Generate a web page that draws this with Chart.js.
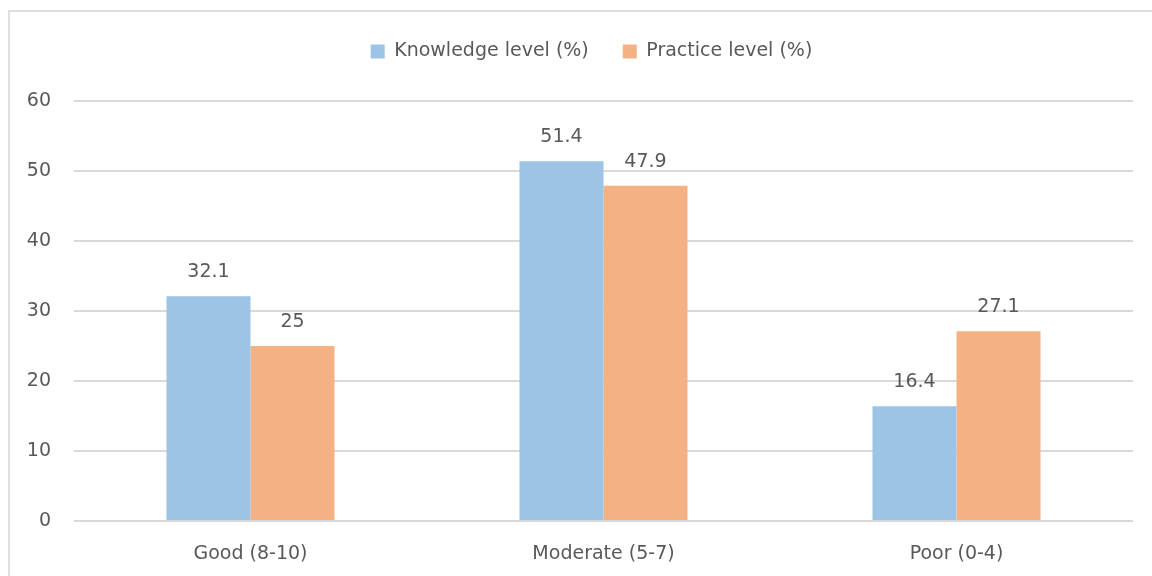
<!DOCTYPE html>
<html lang="en">
<head>
    <meta charset="UTF-8">
    <title>Knowledge and Practice Levels</title>
    <script src="https://cdn.jsdelivr.net/npm/chart.js"></script>
    <style>
        html, body {
            margin: 0;
            padding: 0;
            background: #ffffff;
            overflow: hidden;
        }
        canvas {
            display: block;
        }
    </style>
</head>
<body>

<canvas id="levelChart" width="1152" height="576"></canvas>

<script>
    const categories = ['Good (8-10)', 'Moderate (5-7)', 'Poor (0-4)'];
    const knowledgeLevel = [32.1, 51.4, 16.4];
    const practiceLevel = [25, 47.9, 27.1];
    const yTicks = [0, 10, 20, 30, 40, 50, 60];

    const textColor = '#595959';
    const fontFamily = '"DejaVu Sans", "Open Sans", sans-serif';
    const fontSize = 19;

    // chart frame: only the left and top edges are inside the picture
    const frameEdge = {
        id: 'frameEdge',
        beforeDraw(chart) {
            const ctx = chart.ctx;
            ctx.save();
            ctx.fillStyle = '#dedede';
            ctx.fillRect(8, 10, 2, chart.height - 10);
            ctx.fillRect(8, 10, chart.width - 8, 2);
            ctx.restore();
        }
    };

    // value labels above each bar (no datalabels plugin available offline)
    const barLabels = {
        id: 'barLabels',
        afterDatasetsDraw(chart) {
            const ctx = chart.ctx;
            ctx.save();
            ctx.font = fontSize + 'px ' + fontFamily;
            ctx.fillStyle = textColor;
            ctx.textAlign = 'center';
            ctx.textBaseline = 'alphabetic';
            chart.data.datasets.forEach((ds, i) => {
                chart.getDatasetMeta(i).data.forEach((bar, j) => {
                    ctx.fillText(String(ds.data[j]), bar.x, bar.y - 19);
                });
            });
            ctx.restore();
        }
    };

    // fixed legend height and a small shift right, as in the reference
    const legendPlace = {
        id: 'legendPlace',
        beforeInit(chart) {
            const origFit = chart.legend.fit;
            chart.legend.fit = function () {
                origFit.bind(chart.legend)();
                this.height = 93;
            };
        },
        afterLayout(chart) {
            chart.legend.left = chart.legend.left + 50;
        }
    };

    const ctx = document.getElementById('levelChart').getContext('2d');
    const levelChart = new Chart(ctx, {
        type: 'bar',
        data: {
            labels: categories,
            datasets: [{
                label: 'Knowledge level (%)',
                data: knowledgeLevel,
                backgroundColor: '#9dc3e6'
            }, {
                label: 'Practice level (%)',
                data: practiceLevel,
                backgroundColor: '#f4b183'
            }]
        },
        options: {
            responsive: false,
            animation: false,
            devicePixelRatio: 1,
            categoryPercentage: 0.476,
            barPercentage: 1,
            layout: {
                padding: { top: 8, right: 19, left: 0, bottom: 0 }
            },
            scales: {
                x: {
                    grid: { display: false },
                    border: { display: false },
                    ticks: {
                        color: textColor,
                        font: { family: fontFamily, size: fontSize },
                        padding: 14
                    },
                    afterFit(scale) { scale.height = 55; }
                },
                y: {
                    min: 0,
                    max: 60,
                    afterBuildTicks(scale) {
                        scale.ticks = yTicks.map(v => ({ value: v }));
                    },
                    grid: {
                        color: '#d9d9d9',
                        lineWidth: 2,
                        drawTicks: false
                    },
                    border: { display: false },
                    ticks: {
                        color: textColor,
                        font: { family: fontFamily, size: fontSize },
                        padding: 23
                    },
                    afterFit(scale) { scale.width = 74; }
                }
            },
            plugins: {
                legend: {
                    position: 'top',
                    labels: {
                        color: textColor,
                        font: { family: fontFamily, size: fontSize },
                        boxWidth: 14,
                        boxHeight: 14,
                        padding: 34
                    }
                },
                tooltip: { enabled: false }
            }
        },
        plugins: [frameEdge, barLabels, legendPlace]
    });
</script>

</body>
</html>
